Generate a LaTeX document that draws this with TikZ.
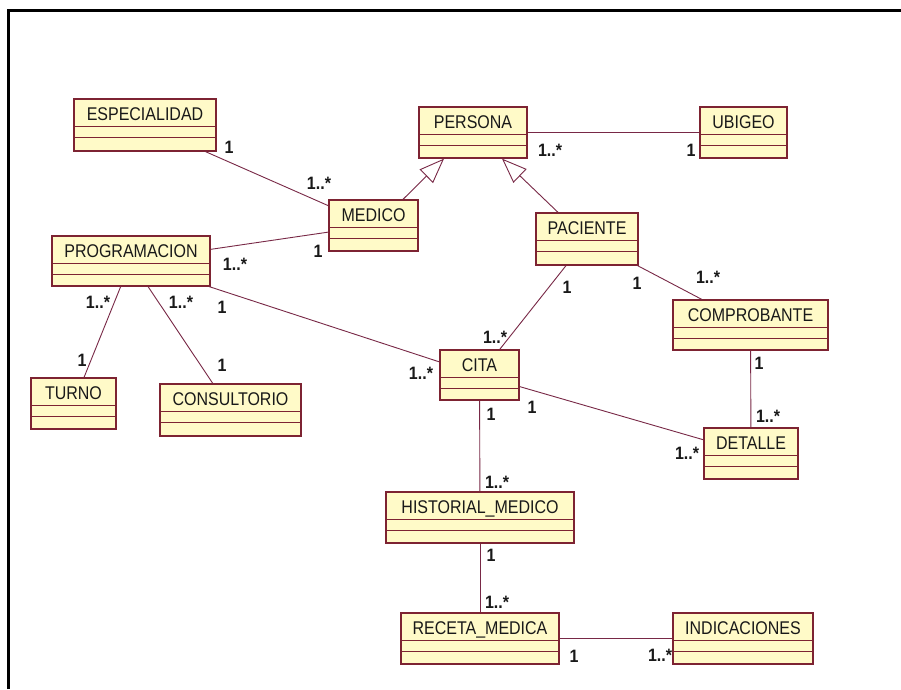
\documentclass[tikz,border=0pt]{standalone}
\usepackage{fontspec}
\setmainfont{Liberation Sans}
\usetikzlibrary{arrows.meta}

\definecolor{clsfill}{RGB}{255,250,200}
\definecolor{clsdraw}{RGB}{125,35,50}
\definecolor{assoc}{RGB}{120,40,70}

\tikzset{
  clsbox/.style={rectangle, draw=clsdraw, fill=clsfill, line width=1.3pt, inner sep=0pt},
  clsrule/.style={draw=clsdraw, line width=1.3pt},
  clsname/.style={font=\fontsize{16}{18}\selectfont, inner sep=0pt, anchor=base, text=black!90},
  assocline/.style={draw=assoc, line width=0.9pt},
  genline/.style={assocline, -{Triangle[open, length=25pt, width=19pt, line width=0.9pt]}},
  mult/.style={font=\bfseries\fontsize{16}{18}\selectfont, inner sep=0pt, text=black!90},
}

% UML class: node name, left, top, right, bottom (pixel-like units), class name
\newcommand\umlclass[6]{%
  \node[clsbox, minimum width={(#4-#2)*1pt}, minimum height={(#5-#3)*1pt}]
    (#1) at ({(#2+#4)/2},{(#3+#5)/2}) {};
  \draw[clsrule] ([yshift=-28pt]#1.north west) -- ([yshift=-28pt]#1.north east)
                 ([yshift=-39pt]#1.north west) -- ([yshift=-39pt]#1.north east);
  \node[clsname] (#1-label) at ([yshift=-22.5pt]#1.north) {\scalebox{1}[1.15]{#6}};
}
\newcommand\multtext[1]{\scalebox{1}[1.12]{#1}}

\begin{document}
\begin{tikzpicture}[x=1pt, y=-1pt]
  \useasboundingbox (0,0) rectangle (901,689);
  \fill[white] (0,0) rectangle (901,689);

  % frame edges
  \draw[line width=3pt] (8,689) -- (8,10.5) -- (901,10.5);

  % classes
  \umlclass{esp}{74}{99}{216}{151}{ESPECIALIDAD}
  \umlclass{per}{419}{107}{527}{158}{PERSONA}
  \umlclass{ubi}{700}{107}{787}{158}{UBIGEO}
  \umlclass{med}{329}{200}{418}{251}{MEDICO}
  \umlclass{prog}{52}{236}{210}{286}{PROGRAMACION}
  \umlclass{pac}{536}{213}{638}{265}{PACIENTE}
  \umlclass{comp}{673}{300}{828}{350}{COMPROBANTE}
  \umlclass{tur}{31}{378}{116}{429}{TURNO}
  \umlclass{cons}{160}{384}{301}{436}{CONSULTORIO}
  \umlclass{cita}{440}{350}{519}{400}{CITA}
  \umlclass{det}{704}{428}{798}{479}{DETALLE}
  \umlclass{hist}{386}{492}{574}{543}{HISTORIAL\_MEDICO}
  \umlclass{rec}{401}{613}{559}{664}{RECETA\_MEDICA}
  \umlclass{ind}{673}{613}{813}{664}{INDICACIONES}

  % generalizations
  \draw[genline] ([xshift=29.5pt]med.north) -- ([xshift=-29pt]per.south);
  \draw[genline] ([xshift=-29pt]pac.north) -- ([xshift=29pt]per.south);

  % associations
  \draw[assocline] (esp) -- (med);
  \draw[assocline] (per) -- (ubi);
  \draw[assocline] (prog) -- (med);
  \draw[assocline] (prog) -- (tur);
  \draw[assocline] (prog) -- (cons);
  \draw[assocline] (prog) -- (cita);
  \draw[assocline] (pac) -- (cita);
  \draw[assocline] (pac) -- (comp);
  \draw[assocline] (comp) -- (det);
  \draw[assocline] (cita) -- (det);
  \draw[assocline] (cita) -- (hist);
  \draw[assocline] (hist) -- (rec);
  \draw[assocline] (rec) -- (ind);

  % multiplicities
  \node[mult] (m-esp)      at (229,147) {\multtext{1}};
  \node[mult] (m-med-esp)  at (319,183) {\multtext{1..*}};
  \node[mult] (m-per)      at (550,150) {\multtext{1..*}};
  \node[mult] (m-ubi)      at (691,150) {\multtext{1}};
  \node[mult] (m-med-prog) at (318,251) {\multtext{1}};
  \node[mult] (m-prog-med) at (235,264) {\multtext{1..*}};
  \node[mult] (m-prog-tur) at (98,302)  {\multtext{1..*}};
  \node[mult] (m-tur)      at (82,360)  {\multtext{1}};
  \node[mult] (m-prog-con) at (181,302) {\multtext{1..*}};
  \node[mult] (m-cons)     at (222,365) {\multtext{1}};
  \node[mult] (m-prog-cit) at (222,307) {\multtext{1}};
  \node[mult] (m-cita-prg) at (421,373) {\multtext{1..*}};
  \node[mult] (m-pac-cita) at (567,287) {\multtext{1}};
  \node[mult] (m-cita-pac) at (495,337) {\multtext{1..*}};
  \node[mult] (m-pac-comp) at (637,283) {\multtext{1}};
  \node[mult] (m-comp-pac) at (708,277) {\multtext{1..*}};
  \node[mult] (m-comp-det) at (759,363) {\multtext{1}};
  \node[mult] (m-det-comp) at (768,416) {\multtext{1..*}};
  \node[mult] (m-cita-det) at (532,407) {\multtext{1}};
  \node[mult] (m-det-cita) at (687,453) {\multtext{1..*}};
  \node[mult] (m-cita-his) at (491,414) {\multtext{1}};
  \node[mult] (m-his-cita) at (497,482) {\multtext{1..*}};
  \node[mult] (m-his-rec)  at (491,555) {\multtext{1}};
  \node[mult] (m-rec-his)  at (497,602) {\multtext{1..*}};
  \node[mult] (m-rec-ind)  at (574,656) {\multtext{1}};
  \node[mult] (m-ind-rec)  at (660,655) {\multtext{1..*}};
\end{tikzpicture}
\end{document}
